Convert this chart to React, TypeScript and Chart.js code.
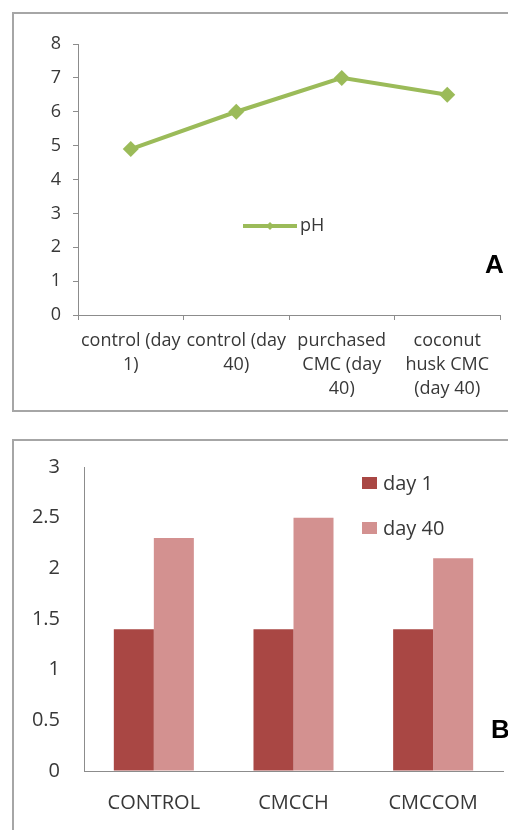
import React, { useEffect, useRef } from "react";
import { Chart, registerables } from "chart.js";

Chart.register(...registerables);

// Panel A: pH of the samples
const phCategories: string[][] = [
  ["control (day", "1)"],
  ["control (day", "40)"],
  ["purchased", "CMC (day", "40)"],
  ["coconut", "husk CMC", "(day 40)"],
];
const phValues: number[] = [4.9, 6.0, 7.0, 6.5];
const phSeriesLabel = "pH";

// Panel B: day 1 vs day 40 per sample
const barCategories: string[] = ["CONTROL", "CMCCH", "CMCCOM"];
const day1Values: number[] = [1.4, 1.4, 1.4];
const day40Values: number[] = [2.3, 2.5, 2.1];
const barSeriesLabels: string[] = ["day 1", "day 40"];

const FONT = "'Open Sans', sans-serif";
const TEXT = "#383838";
const AXIS = "#8c8c8c";
const GREEN = "#9bbb59";
const RED_DARK = "#a94744";
const RED_LIGHT = "#d39190";

// Inline legend for the line chart: a line segment with a small diamond, then the label.
const lineLegend = {
  id: "lineLegend",
  afterDatasetsDraw(chart: any) {
    const { ctx } = chart;
    const ds = chart.data.datasets[0];
    const x0 = 229;
    const x1 = 283;
    const y = 212;
    ctx.save();
    ctx.strokeStyle = ds.borderColor;
    ctx.lineWidth = 4;
    ctx.beginPath();
    ctx.moveTo(x0, y);
    ctx.lineTo(x1, y);
    ctx.stroke();
    const cx = (x0 + x1) / 2;
    ctx.fillStyle = ds.borderColor;
    ctx.beginPath();
    ctx.moveTo(cx - 4, y);
    ctx.lineTo(cx, y - 4);
    ctx.lineTo(cx + 4, y);
    ctx.lineTo(cx, y + 4);
    ctx.closePath();
    ctx.fill();
    ctx.fillStyle = TEXT;
    ctx.font = `18px ${FONT}`;
    ctx.textBaseline = "middle";
    ctx.textAlign = "left";
    ctx.fillText(ds.label, 286, y);
    ctx.restore();
  },
};

// Inline legend for the bar chart: colour squares stacked vertically.
const barLegend = {
  id: "barLegend",
  afterDatasetsDraw(chart: any) {
    const { ctx } = chart;
    ctx.save();
    ctx.font = `20px ${FONT}`;
    ctx.textBaseline = "middle";
    ctx.textAlign = "left";
    chart.data.datasets.forEach((ds: any, i: number) => {
      const top = 36 + i * 45;
      ctx.fillStyle = ds.backgroundColor;
      ctx.fillRect(348, top, 15, 12);
      ctx.fillStyle = TEXT;
      ctx.fillText(ds.label, 369, top + 7);
    });
    ctx.restore();
  },
};

function LineChartA() {
  const ref = useRef<HTMLCanvasElement | null>(null);
  useEffect(() => {
    if (!ref.current) return;
    const chart = new Chart(ref.current, {
      type: "line",
      data: {
        labels: phCategories as any,
        datasets: [
          {
            label: phSeriesLabel,
            data: phValues,
            borderColor: GREEN,
            backgroundColor: GREEN,
            borderWidth: 4,
            pointStyle: "rectRot",
            pointRadius: 8,
            pointBorderWidth: 0,
            pointBackgroundColor: GREEN,
            tension: 0,
          },
        ],
      },
      options: {
        responsive: false,
        animation: false,
        layout: { padding: { left: 0, top: 30, right: 8, bottom: 0 } },
        plugins: { legend: { display: false }, tooltip: { enabled: false } },
        scales: {
          x: {
            offset: true,
            grid: { offset: true, drawOnChartArea: false, drawTicks: true, tickLength: 5, color: AXIS },
            border: { color: AXIS },
            ticks: {
              color: TEXT,
              font: { family: FONT, size: 18, lineHeight: 1.33 },
              padding: 9,
              maxRotation: 0,
              autoSkip: false,
            },
            afterFit: (s: any) => {
              s.height = 95;
            },
          },
          y: {
            min: 0,
            max: 8,
            grid: { drawOnChartArea: false, drawTicks: true, tickLength: 5, color: AXIS },
            border: { color: AXIS },
            ticks: { stepSize: 1, color: TEXT, font: { family: FONT, size: 18 }, padding: 12 },
            afterFit: (s: any) => {
              s.width = 64;
            },
          },
        },
      },
      plugins: [lineLegend],
    });
    return () => chart.destroy();
  }, []);
  return <canvas ref={ref} width={494} height={396} style={{ position: "absolute", left: 14, top: 14, display: "block" }} />;
}

function BarChartB() {
  const ref = useRef<HTMLCanvasElement | null>(null);
  useEffect(() => {
    if (!ref.current) return;
    const chart = new Chart(ref.current, {
      type: "bar",
      data: {
        labels: barCategories,
        datasets: [
          { label: barSeriesLabels[0], data: day1Values, backgroundColor: RED_DARK, borderWidth: 0 },
          { label: barSeriesLabels[1], data: day40Values, backgroundColor: RED_LIGHT, borderWidth: 0 },
        ],
      },
      options: {
        responsive: false,
        animation: false,
        categoryPercentage: 0.573,
        barPercentage: 1,
        layout: { padding: { left: 0, top: 26, right: 5, bottom: 0 } },
        plugins: { legend: { display: false }, tooltip: { enabled: false } },
        scales: {
          x: {
            grid: { drawOnChartArea: false, drawTicks: false, color: AXIS },
            border: { color: AXIS },
            ticks: { color: TEXT, font: { family: FONT, size: 20 }, padding: 20, maxRotation: 0, autoSkip: false },
            afterFit: (s: any) => {
              s.height = 59;
            },
          },
          y: {
            min: 0,
            max: 3,
            grid: { drawOnChartArea: false, drawTicks: false, color: AXIS },
            border: { color: AXIS },
            ticks: {
              stepSize: 0.5,
              color: TEXT,
              font: { family: FONT, size: 20 },
              padding: 24,
              callback: (v: any) => String(Number(v)),
            },
            afterFit: (s: any) => {
              s.width = 70;
              s.paddingTop = 0;
              s.paddingBottom = 0;
            },
          },
        },
      },
      plugins: [barLegend],
    });
    return () => chart.destroy();
  }, []);
  return <canvas ref={ref} width={494} height={389} style={{ position: "absolute", left: 14, top: 441, display: "block" }} />;
}

export default function App() {
  const panel: React.CSSProperties = {
    position: "absolute",
    left: 12,
    width: 520,
    border: "2px solid #a6a6a6",
    boxSizing: "border-box",
    background: "#fff",
  };
  const letter: React.CSSProperties = {
    position: "absolute",
    fontFamily: "'Liberation Sans', Arial, sans-serif",
    fontWeight: "bold",
    fontSize: 26,
    lineHeight: "26px",
    color: "#000",
  };
  return (
    <div style={{ position: "absolute", left: 0, top: 0, width: 508, height: 830, overflow: "hidden", background: "#fff" }}>
      <div style={{ ...panel, top: 12, height: 400 }} />
      <div style={{ ...panel, top: 439, height: 420 }} />
      <LineChartA />
      <BarChartB />
      <div style={{ ...letter, left: 485, top: 251 }}>A</div>
      <div style={{ ...letter, left: 491, top: 716 }}>B</div>
    </div>
  );
}
